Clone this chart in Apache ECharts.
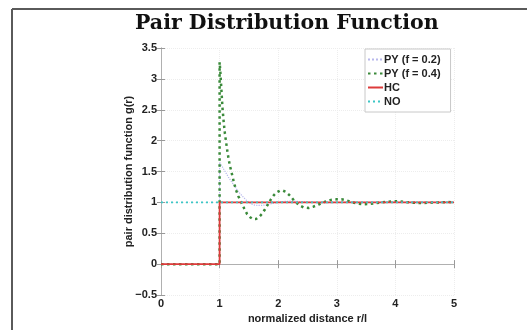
<!DOCTYPE html>
<html><head><meta charset="utf-8">
<script src="https://cdn.jsdelivr.net/npm/echarts@6/dist/echarts.min.js"></script>
<style>html,body{margin:0;padding:0;background:#fff}#c{width:527px;height:330px}</style>
</head><body><div id="c"></div>
<script>
const titleText = 'Pair Distribution Function';
const xName = 'normalized distance r/l';
const yName = 'pair distribution function g(r)';
const seriesNames = ['PY (f = 0.2)', 'PY (f = 0.4)', 'HC', 'NO'];
const yTicks = [-0.5, 0, 0.5, 1, 1.5, 2, 2.5, 3, 3.5];
const xTicks = [0, 1, 2, 3, 4, 5];

const rPY2 = [0, 1, 1, 1.05, 1.1, 1.15, 1.2, 1.25, 1.3, 1.35, 1.4, 1.45, 1.5, 1.55, 1.6, 1.7, 1.8, 1.9, 2.0, 2.1, 2.2, 2.3, 2.4, 2.6, 2.8, 3.0, 3.5, 4.0, 5.0];
const gPY2 = [0, 0, 1.65, 1.57, 1.49, 1.41, 1.34, 1.27, 1.2, 1.14, 1.09, 1.04, 1.0, 0.97, 0.955, 0.95, 0.96, 0.98, 1.0, 1.015, 1.02, 1.02, 1.01, 1.0, 0.995, 0.998, 1.0, 1.0, 1.0];

const rPY4 = [0, 1, 1, 1.01, 1.02, 1.035, 1.05, 1.07, 1.09, 1.11, 1.14, 1.17, 1.2, 1.24, 1.28, 1.32, 1.37, 1.42, 1.47, 1.52, 1.57, 1.62, 1.67, 1.72, 1.77, 1.82, 1.87, 1.92, 1.97, 2.03, 2.08, 2.13, 2.2, 2.27, 2.35, 2.43, 2.52, 2.6, 2.7, 2.8, 2.9, 3.0, 3.08, 3.17, 3.27, 3.37, 3.47, 3.57, 3.67, 3.77, 3.87, 3.97, 4.07, 4.17, 4.3, 4.45, 4.6, 4.75, 4.9, 5.0];
const gPY4 = [0, 0, 3.27, 3.15, 3.0, 2.75, 2.52, 2.3, 2.12, 1.98, 1.78, 1.62, 1.5, 1.34, 1.2, 1.1, 1.0, 0.9, 0.81, 0.76, 0.73, 0.73, 0.76, 0.81, 0.88, 0.96, 1.04, 1.11, 1.16, 1.19, 1.19, 1.17, 1.11, 1.03, 0.96, 0.92, 0.91, 0.93, 0.97, 1.01, 1.04, 1.05, 1.05, 1.03, 1.0, 0.98, 0.97, 0.975, 0.99, 1.0, 1.01, 1.02, 1.015, 1.005, 0.995, 0.99, 0.995, 1.0, 1.005, 1.0];

const rHC = [0, 1, 1, 5];
const gHC = [0, 0, 1, 1];

const rNO = [0, 5];
const gNO = [1, 1];

const zip = (a, b) => a.map((v, i) => [v, b[i]]);
const fmtY = v => (v < 0 ? '\u2212' + Math.abs(v) : String(v));
const lblFont = {fontFamily: 'Liberation Sans, Arial, sans-serif', fontWeight: 'bold', fontSize: 11, color: '#222'};

const chart = echarts.init(document.getElementById('c'), null, {renderer: 'canvas'});
chart.setOption({
  backgroundColor: '#fff',
  animation: false,
  title: {
    text: titleText, left: 130, top: 8,
    textStyle: {fontFamily: 'DejaVu Serif, serif', fontWeight: 'bold', fontSize: 20.5, color: '#111'}
  },
  legend: {
    orient: 'vertical', left: 365, top: 49,
    data: seriesNames,
    backgroundColor: '#fff', borderColor: '#c8c8c8', borderWidth: 1,
    padding: [5, 10, 5, 2], itemGap: 3, itemWidth: 15, itemHeight: 11,
    itemStyle: {opacity: 0},
    textStyle: Object.assign({}, lblFont, {padding: [0, 0, 0, -4]})
  },
  grid: {left: 161, right: 73, top: 48, bottom: 35},
  xAxis: [{
    type: 'value', min: 0, max: 5, interval: 1,
    name: xName, nameLocation: 'middle', nameGap: 18, nameMoveOverlap: false,
    nameTextStyle: Object.assign({}, lblFont, {fontSize: 11}),
    axisLine: {show: true, lineStyle: {color: '#b0b0b0'}},
    axisTick: {show: true, inside: true, length: 4, lineStyle: {color: '#999'}},
    axisLabel: Object.assign({}, lblFont, {margin: 3}),
    splitLine: {show: true, lineStyle: {color: '#ededed', type: 'dotted'}}
  }, {
    type: 'value', min: 0, max: 5, interval: 1, position: 'top',
    axisLine: {show: true, lineStyle: {color: '#b0b0b0'}},
    axisTick: {show: true, inside: true, length: 4, lineStyle: {color: '#999'}},
    axisLabel: {show: false}, splitLine: {show: false}
  }],
  yAxis: [{
    type: 'value', min: -0.5, max: 3.5, interval: 0.5,
    name: yName, nameLocation: 'middle', nameGap: 27, nameRotate: 90, nameMoveOverlap: false,
    nameTextStyle: Object.assign({}, lblFont, {fontSize: 11}),
    axisLine: {show: true, lineStyle: {color: '#b0b0b0'}},
    axisTick: {show: true, inside: true, length: 4, lineStyle: {color: '#999'}},
    axisLabel: Object.assign({}, lblFont, {margin: 4, formatter: fmtY}),
    splitLine: {show: true, lineStyle: {color: '#ededed', type: 'dotted'}}
  }, {
    type: 'value', min: -0.5, max: 3.5, interval: 0.5, position: 'right',
    axisLine: {show: true, lineStyle: {color: '#b0b0b0'}},
    axisTick: {show: true, inside: true, length: 4, lineStyle: {color: '#999'}},
    axisLabel: {show: false}, splitLine: {show: false}
  }],
  series: [
    {name: seriesNames[0], type: 'line', data: zip(rPY2, gPY2), showSymbol: false, symbol: 'none',
     color: '#b8b8ec', lineStyle: {color: '#b8b8ec', width: 1.2, type: 'dotted'}, z: 2},
    {name: seriesNames[1], type: 'line', data: zip(rPY4, gPY4), showSymbol: false, symbol: 'none',
     color: '#3a8a3a', lineStyle: {color: '#3a8a3a', width: 2.5, type: [2.5, 3.5]}, z: 3},
    {name: seriesNames[2], type: 'line', data: zip(rHC, gHC), showSymbol: false, symbol: 'none',
     color: '#dd3b3b', lineStyle: {color: '#dd3b3b', width: 1.8}, z: 4},
    {name: seriesNames[3], type: 'line', data: zip(rNO, gNO), showSymbol: false, symbol: 'none',
     color: '#3cc6c6', lineStyle: {color: '#3cc6c6', width: 1.8, type: [2, 3]}, z: 5}
  ],
  graphic: [
    {type: 'line', shape: {x1: 12, y1: 9, x2: 527, y2: 9}, style: {stroke: '#5a5a5a', lineWidth: 2}},
    {type: 'line', shape: {x1: 12, y1: 9, x2: 12, y2: 330}, style: {stroke: '#5a5a5a', lineWidth: 2}}
  ]
});
</script></body></html>
